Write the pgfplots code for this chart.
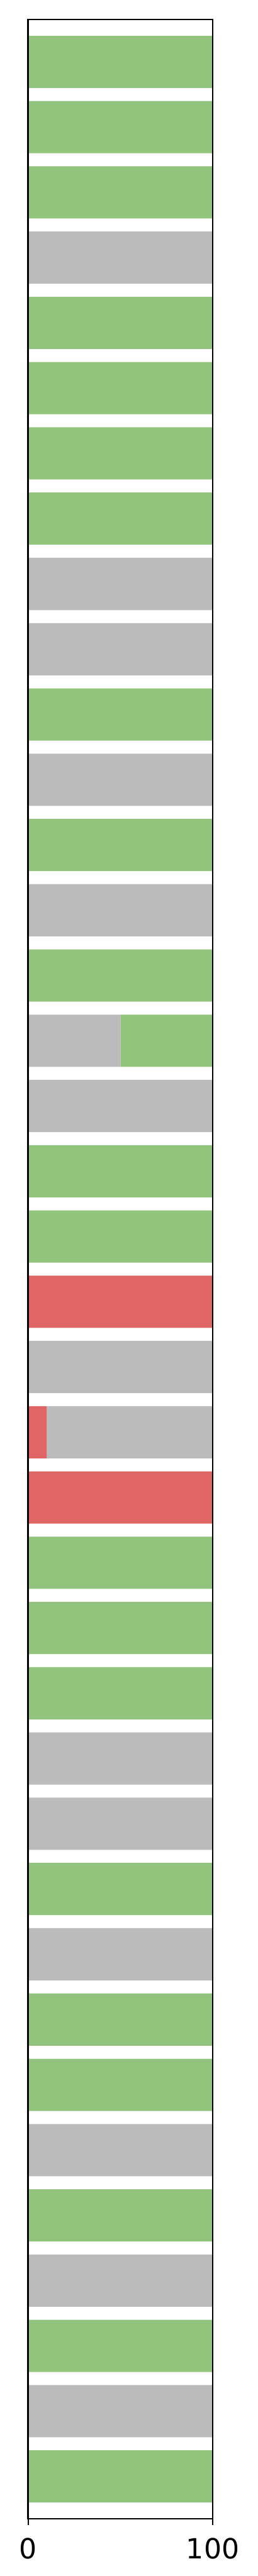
\documentclass[border=0pt]{standalone}
\usepackage{pgfplots}
\usepackage{pgfplotstable}
\pgfplotsset{compat=1.18}
\usepackage{fontspec}
\setmainfont{DejaVu Sans}
\definecolor{cgreen}{HTML}{93C47D}
\definecolor{cgray}{HTML}{BBBBBB}
\definecolor{cred}{HTML}{E06666}

\pgfplotstableread{
y red gray green
0 0 0 100
1 0 0 100
2 0 0 100
3 0 100 0
4 0 0 100
5 0 0 100
6 0 0 100
7 0 0 100
8 0 100 0
9 0 100 0
10 0 0 100
11 0 100 0
12 0 0 100
13 0 100 0
14 0 0 100
15 0 50 50
16 0 100 0
17 0 0 100
18 0 0 100
19 100 0 0
20 0 100 0
21 10 90 0
22 100 0 0
23 0 0 100
24 0 0 100
25 0 0 100
26 0 100 0
27 0 100 0
28 0 0 100
29 0 100 0
30 0 0 100
31 0 0 100
32 0 100 0
33 0 0 100
34 0 100 0
35 0 0 100
36 0 100 0
37 0 0 100
}\data

\begin{document}
\begin{tikzpicture}
\path[use as bounding box] (-9.855pt,-20pt) rectangle (80.145pt,880pt);
\begin{axis}[
  at={(0,0)}, anchor=south west,
  scale only axis,
  width=64.44pt, height=873.2pt,
  xbar stacked,
  bar width=18.24pt,
  xmin=0, xmax=100,
  ymin=-0.65, ymax=37.65,
  y dir=reverse,
  xtick={0,100},
  ytick=\empty,
  xtick pos=left,
  tick align=outside,
  major tick length=2.15pt,
  axis line style={line width=0.6pt, black},
  every tick/.style={black, line width=0.5pt},
  axis on top,
  /pgf/number format/assume math mode=true,
  tick label style={font=\fontsize{9.7}{11.6}\selectfont},
  xticklabel style={anchor=north, inner sep=0pt, yshift=-4.5pt},
]
\addplot[fill=cred, draw=none] table[x=red, y=y] {\data};
\addplot[fill=cgray, draw=none] table[x=gray, y=y] {\data};
\addplot[fill=cgreen, draw=none] table[x=green, y=y] {\data};
\end{axis}
\end{tikzpicture}
\end{document}
